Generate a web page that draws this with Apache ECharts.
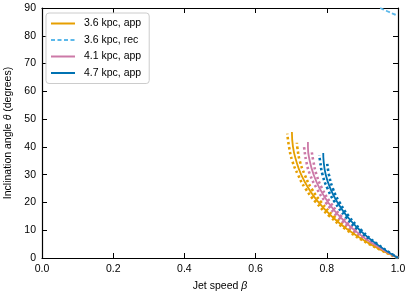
<!DOCTYPE html>
<html><head><meta charset="utf-8">
<script src="https://cdn.jsdelivr.net/npm/echarts@6/dist/echarts.min.js"></script>
<style>html,body{margin:0;padding:0;background:#fff}#c{width:411px;height:294px}</style>
</head><body><div id="c"></div>
<script>
// [beta, theta(deg)] points
const app36 = [[1.000,0],[0.922,5],[0.861,10],[0.814,15],[0.777,20],[0.749,25],[0.728,30],[0.714,35],[0.705,40],[0.702,45.4]];
const app36Lo = [[1.000,0],[0.919,5],[0.857,10],[0.808,15],[0.770,20],[0.740,25],[0.719,30],[0.703,35],[0.694,40],[0.689,44.8]];
const app36Hi = [[1.000,0],[0.925,5],[0.866,10],[0.820,15],[0.785,20],[0.757,25],[0.738,30],[0.724,35],[0.717,40],[0.716,41.5]];
const rec36 = [[0.950,90],[0.958,89.5],[0.967,89],[0.976,88.5],[0.985,88],[0.994,87.5],[1.000,87.2]];
const app41 = [[1.000,0],[0.931,5],[0.878,10],[0.836,15],[0.804,20],[0.780,25],[0.763,30],[0.752,35],[0.747,40],[0.747,41.8]];
const app41Lo = [[1.000,0],[0.929,5],[0.873,10],[0.830,15],[0.797,20],[0.772,25],[0.753,30],[0.742,35],[0.736,40],[0.735,40.6]];
const app41Hi = [[1.000,0],[0.934,5],[0.882,10],[0.841,15],[0.810,20],[0.787,25],[0.771,30],[0.762,35],[0.758,38]];
const app47 = [[1.000,0],[0.940,5],[0.893,10],[0.857,15],[0.830,20],[0.810,25],[0.797,30],[0.791,35],[0.790,37.8]];
const app47Lo = [[1.000,0],[0.938,5],[0.889,10],[0.852,15],[0.823,20],[0.802,25],[0.788,30],[0.781,35],[0.779,37]];
const app47Hi = [[1.000,0],[0.942,5],[0.897,10],[0.862,15],[0.836,20],[0.817,25],[0.806,30],[0.801,34.3]];
const legendNames = ['3.6 kpc, app','3.6 kpc, rec','4.1 kpc, app','4.7 kpc, app'];
const xTicks = [0,0.2,0.4,0.6,0.8,1.0];
const yTicks = [0,10,20,30,40,50,60,70,80,90];

const C = {o:'#E69F00', lb:'#5BB8EA', p:'#CC79A7', b:'#0072B2'};
const FONT = 'Liberation Sans, Arial, sans-serif';
const chart = echarts.init(document.getElementById('c'), null, {renderer:'canvas'});

function solid(name, data, color){
  return {name, type:'line', data, showSymbol:false, symbol:'none', smooth:true,
    lineStyle:{color, width:1.8}, itemStyle:{color}, z:3};
}
function dotted(name, data, color){
  return {name, type:'line', data, showSymbol:false, symbol:'none', smooth:true,
    lineStyle:{color, width:2.6, type:[2.4,2.6], cap:'butt'}, itemStyle:{color}, z:2};
}
const tickStyle = {show:true, inside:true, length:5, lineStyle:{color:'#000', width:1}};
const axLine = {show:true, onZero:false, lineStyle:{color:'#000', width:1.2}};

chart.setOption({
  animation:false,
  backgroundColor:'#fff',
  textStyle:{fontFamily:FONT},
  grid:{left:42, right:13, top:8, bottom:36, containLabel:false, outerBoundsMode:'none'},
  legend:{
    data:legendNames, orient:'vertical', left:46, top:13,
    itemWidth:24, itemHeight:10, itemGap:5.5,
    padding:[5,8,5,4],
    itemStyle:{opacity:0, borderWidth:0},
    backgroundColor:'rgba(255,255,255,0.9)', borderColor:'#cccccc', borderWidth:1, borderRadius:3,
    textStyle:{fontFamily:FONT, fontSize:10.5, color:'#000', padding:[0,0,0,4]}
  },
  xAxis:[{
    type:'value', min:0, max:1, interval:0.2,
    name:'{n|Jet speed }{i|β}', nameLocation:'middle', nameGap:23,
    nameTextStyle:{rich:{n:{fontFamily:FONT,fontSize:10.5,color:'#000'},i:{fontFamily:FONT,fontSize:10.5,fontStyle:'italic',color:'#000'}}},
    axisLine:axLine, axisTick:tickStyle, splitLine:{show:false},
    axisLabel:{fontFamily:FONT, fontSize:10.5, color:'#000', margin:6, formatter:v=>xTicks.includes(+v.toFixed(1))?v.toFixed(1):''}
  },{
    type:'value', min:0, max:1, interval:0.2, position:'top',
    axisLine:axLine, axisTick:tickStyle, axisLabel:{show:false}, splitLine:{show:false}
  }],
  yAxis:[{
    type:'value', min:0, max:90, interval:10,
    name:'{n|Inclination angle }{i|θ}{n| (degrees)}', nameLocation:'middle', nameGap:24,
    nameTextStyle:{rich:{n:{fontFamily:FONT,fontSize:10.5,color:'#000'},i:{fontFamily:FONT,fontSize:10.5,fontStyle:'italic',color:'#000'}}},
    axisLine:axLine, axisTick:tickStyle, splitLine:{show:false},
    axisLabel:{fontFamily:FONT, fontSize:10.5, color:'#000', margin:6, formatter:v=>yTicks.includes(v)?String(v):''}
  },{
    type:'value', min:0, max:90, interval:10, position:'right',
    axisLine:axLine, axisTick:tickStyle, axisLabel:{show:false}, splitLine:{show:false}
  }],
  series:[
    dotted('3.6 lo', app36Lo, C.o),
    dotted('3.6 hi', app36Hi, C.o),
    solid(legendNames[0], app36, C.o),
    {name:legendNames[1], type:'line', data:rec36, showSymbol:false, symbol:'none', smooth:true,
      lineStyle:{color:C.lb, width:1.8, type:[4,2.5]}, itemStyle:{color:C.lb}, z:3},
    dotted('4.1 lo', app41Lo, C.p),
    dotted('4.1 hi', app41Hi, C.p),
    solid(legendNames[2], app41, C.p),
    dotted('4.7 lo', app47Lo, C.b),
    dotted('4.7 hi', app47Hi, C.b),
    solid(legendNames[3], app47, C.b)
  ]
});
</script></body></html>
